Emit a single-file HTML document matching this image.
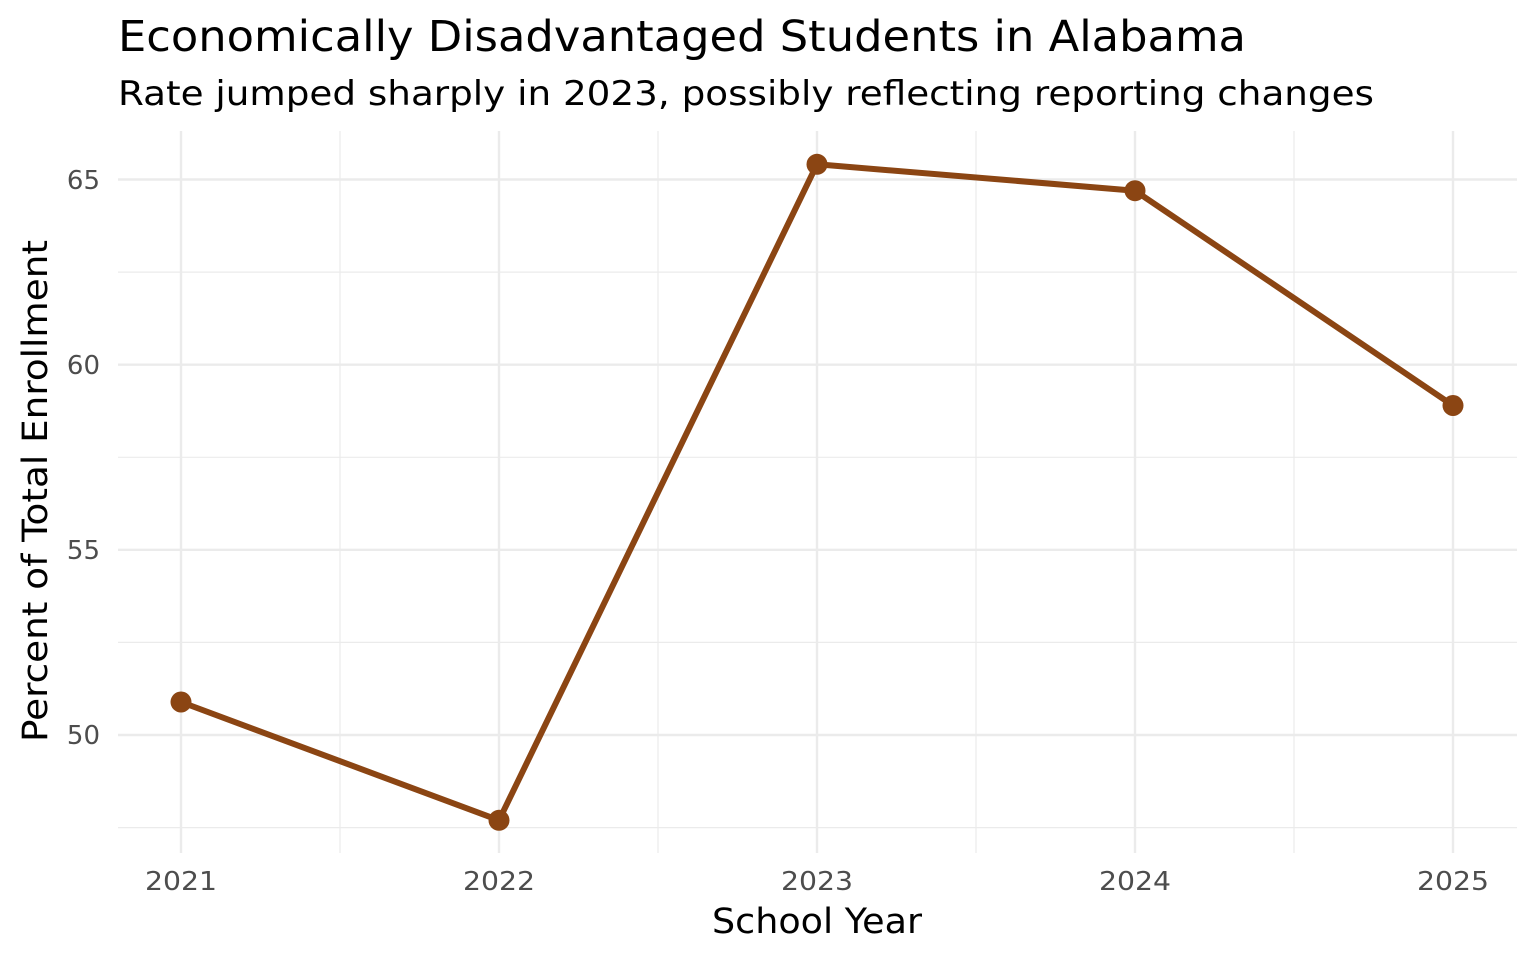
<!DOCTYPE html>
<html>
<head>
<meta charset="utf-8">
<style>
  html, body { margin: 0; padding: 0; background: #ffffff; }
  svg { display: block; }
  text { font-family: "DejaVu Sans", "Liberation Sans", sans-serif; }
</style>
</head>
<body>
<svg width="1536" height="960" viewBox="0 0 1536 960" xmlns="http://www.w3.org/2000/svg">
  <rect x="0" y="0" width="1536" height="960" fill="#ffffff"/>

  <!-- minor grid -->
  <g stroke="#EBEBEB" stroke-width="1.2" fill="none">
    <line x1="118" y1="272.1" x2="1517" y2="272.1"/>
    <line x1="118" y1="457.3" x2="1517" y2="457.3"/>
    <line x1="118" y1="642.4" x2="1517" y2="642.4"/>
    <line x1="118" y1="827.6" x2="1517" y2="827.6"/>
    <line x1="340" y1="131" x2="340" y2="853"/>
    <line x1="658" y1="131" x2="658" y2="853"/>
    <line x1="976" y1="131" x2="976" y2="853"/>
    <line x1="1294" y1="131" x2="1294" y2="853"/>
  </g>
  <!-- major grid -->
  <g stroke="#EBEBEB" stroke-width="2.4" fill="none">
    <line x1="118" y1="179.5" x2="1517" y2="179.5"/>
    <line x1="118" y1="364.7" x2="1517" y2="364.7"/>
    <line x1="118" y1="549.8" x2="1517" y2="549.8"/>
    <line x1="118" y1="735" x2="1517" y2="735"/>
    <line x1="181" y1="131" x2="181" y2="853"/>
    <line x1="499" y1="131" x2="499" y2="853"/>
    <line x1="817" y1="131" x2="817" y2="853"/>
    <line x1="1135" y1="131" x2="1135" y2="853"/>
    <line x1="1453" y1="131" x2="1453" y2="853"/>
  </g>

  <!-- series -->
  <polyline points="181,702 499,820.3 817,164.3 1135,190.7 1453,405.5"
            fill="none" stroke="#8B4513" stroke-width="6" stroke-linejoin="round" stroke-linecap="butt"/>
  <g fill="#8B4513">
    <circle cx="181" cy="702" r="10.5"/>
    <circle cx="499" cy="820.3" r="10.5"/>
    <circle cx="817" cy="164.3" r="10.5"/>
    <circle cx="1135" cy="190.7" r="10.5"/>
    <circle cx="1453" cy="405.5" r="10.5"/>
  </g>

  <!-- y tick labels -->
  <g fill="#4D4D4D" font-size="26" text-anchor="end">
    <text x="100" y="189">65</text>
    <text x="100" y="374">60</text>
    <text x="100" y="559">55</text>
    <text x="100" y="744">50</text>
  </g>

  <!-- x tick labels -->
  <g fill="#4D4D4D" font-size="26" text-anchor="middle">
    <text x="181" y="890" textLength="72" lengthAdjust="spacingAndGlyphs">2021</text>
    <text x="499" y="890" textLength="72" lengthAdjust="spacingAndGlyphs">2022</text>
    <text x="817" y="890" textLength="72" lengthAdjust="spacingAndGlyphs">2023</text>
    <text x="1135" y="890" textLength="72" lengthAdjust="spacingAndGlyphs">2024</text>
    <text x="1453" y="890" textLength="72" lengthAdjust="spacingAndGlyphs">2025</text>
  </g>

  <!-- axis titles -->
  <text x="817" y="933" font-size="35" fill="#000000" text-anchor="middle" textLength="210" lengthAdjust="spacingAndGlyphs">School Year</text>
  <text transform="translate(47,491) rotate(-90)" font-size="35" fill="#000000" text-anchor="middle" textLength="502" lengthAdjust="spacingAndGlyphs">Percent of Total Enrollment</text>

  <!-- title and subtitle -->
  <text x="118" y="51" font-size="43" fill="#000000" textLength="1128" lengthAdjust="spacingAndGlyphs">Economically Disadvantaged Students in Alabama</text>
  <text x="118" y="105" font-size="34" fill="#000000" textLength="1256" lengthAdjust="spacingAndGlyphs">Rate jumped sharply in 2023, possibly reflecting reporting changes</text>
</svg>
</body>
</html>
